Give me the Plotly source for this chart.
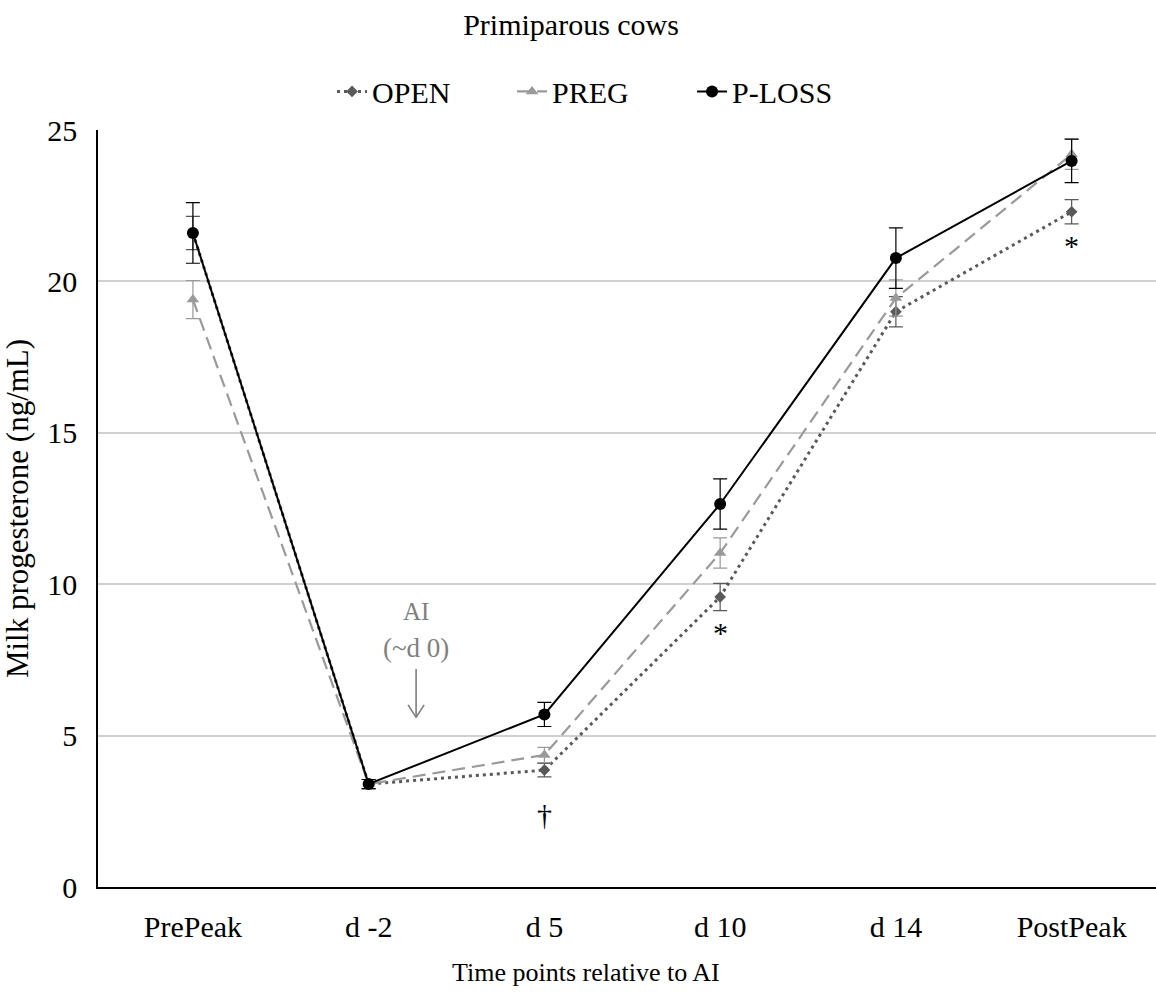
import plotly.graph_objects as go

categories = ["PrePeak", "d -2", "d 5", "d 10", "d 14", "PostPeak"]
open_vals = [21.6, 3.4, 3.86, 9.58, 19.0, 22.3]
open_err = [0.55, 0.15, 0.22, 0.45, 0.5, 0.4]
preg_vals = [19.4, 3.4, 4.36, 11.03, 19.45, 24.2]
preg_err = [0.63, 0.15, 0.25, 0.5, 0.6, 0.5]
ploss_vals = [21.6, 3.4, 5.7, 12.65, 20.77, 23.98]
ploss_err = [1.0, 0.15, 0.4, 0.83, 1.0, 0.72]

sig_x = ["d 5", "d 10", "PostPeak"]
sig_y = [2.4, 8.4, 21.2]
sig_text = ["†", "*", "*"]

FONT = "Liberation Serif"

fig = go.Figure()
fig.add_trace(go.Scatter(
    x=categories, y=open_vals, name="OPEN", mode="lines+markers",
    line=dict(color="#595959", width=3, dash="3px,4px"),
    marker=dict(symbol="diamond", size=9, color="#595959"),
    error_y=dict(type="data", array=open_err, color="#595959", thickness=1.2, width=7),
))
fig.add_trace(go.Scatter(
    x=categories, y=preg_vals, name="PREG", mode="lines+markers",
    line=dict(color="#9a9a9a", width=2.2, dash="13px,7px"),
    marker=dict(symbol="triangle-up", size=11, color="#9a9a9a"),
    error_y=dict(type="data", array=preg_err, color="#9a9a9a", thickness=1.2, width=7),
))
fig.add_trace(go.Scatter(
    x=categories, y=ploss_vals, name="P-LOSS", mode="lines+markers",
    line=dict(color="#000000", width=2),
    marker=dict(symbol="circle", size=12, color="#000000"),
    error_y=dict(type="data", array=ploss_err, color="#000000", thickness=1.2, width=7),
))

for xv, yv, t in zip(sig_x, sig_y, sig_text):
    fig.add_annotation(x=xv, y=yv, text=t, showarrow=False,
                       font=dict(family=FONT, size=30, color="#000000"))

# AI annotation (between d -2 and d 5)
fig.add_annotation(x=1.27, y=9.1, text="AI", showarrow=False,
                   font=dict(family=FONT, size=25, color="#7f7f7f"))
fig.add_annotation(x=1.27, y=7.9, text="(~d 0)", showarrow=False,
                   font=dict(family=FONT, size=27, color="#7f7f7f"))
fig.add_annotation(x=1.27, y=5.6, ax=1.27, ay=7.25, xref="x", yref="y",
                   axref="x", ayref="y", text="", showarrow=True,
                   arrowhead=0, arrowwidth=1.6, arrowcolor="#7f7f7f")
fig.add_annotation(x=1.27, y=5.6, ax=-9, ay=-14, xref="x", yref="y",
                   text="", showarrow=True, arrowhead=0, arrowwidth=1.6,
                   arrowcolor="#7f7f7f")
fig.add_annotation(x=1.27, y=5.6, ax=9, ay=-14, xref="x", yref="y",
                   text="", showarrow=True, arrowhead=0, arrowwidth=1.6,
                   arrowcolor="#7f7f7f")

# x-axis title (centred on the figure, as in the reference)
fig.add_annotation(x=0.461, y=-0.1123, xref="paper", yref="paper",
                   text="Time points relative to AI", showarrow=False,
                   xanchor="center", yanchor="middle",
                   font=dict(family=FONT, size=26, color="#000000"))

fig.update_layout(
    width=1156, height=994,
    paper_bgcolor="white", plot_bgcolor="white",
    margin=dict(l=98, r=0, t=130, b=107),
    font=dict(family=FONT, size=20, color="#000000"),
    title=dict(text="Primiparous cows", x=0.494, xanchor="center", y=0.975,
               yanchor="middle", font=dict(family=FONT, size=30, color="#000000")),
    legend=dict(orientation="h", x=0.2212, xanchor="left", y=1.051, yanchor="middle",
                font=dict(family=FONT, size=30), itemwidth=30,
                entrywidth=135, entrywidthmode="pixels",
                bgcolor="rgba(0,0,0,0)"),
    showlegend=True,
)
fig.update_xaxes(
    type="category", range=[-0.54, 5.48], showgrid=False,
    showline=True, linecolor="#000000", linewidth=1.5,
    ticks="", tickfont=dict(family=FONT, size=30), ticklabelstandoff=12,
)
fig.update_yaxes(
    range=[0, 25], tickvals=[0, 5, 10, 15, 20, 25],
    showgrid=True, gridcolor="#d0d0d0", gridwidth=1.5,
    showline=True, linecolor="#000000", linewidth=1.5,
    zeroline=False, ticks="", tickfont=dict(family=FONT, size=30), ticklabelstandoff=13,
    title=dict(text="Milk progesterone (ng/mL)", font=dict(family=FONT, size=31), standoff=12),
)

fig.write_html("out.html")
